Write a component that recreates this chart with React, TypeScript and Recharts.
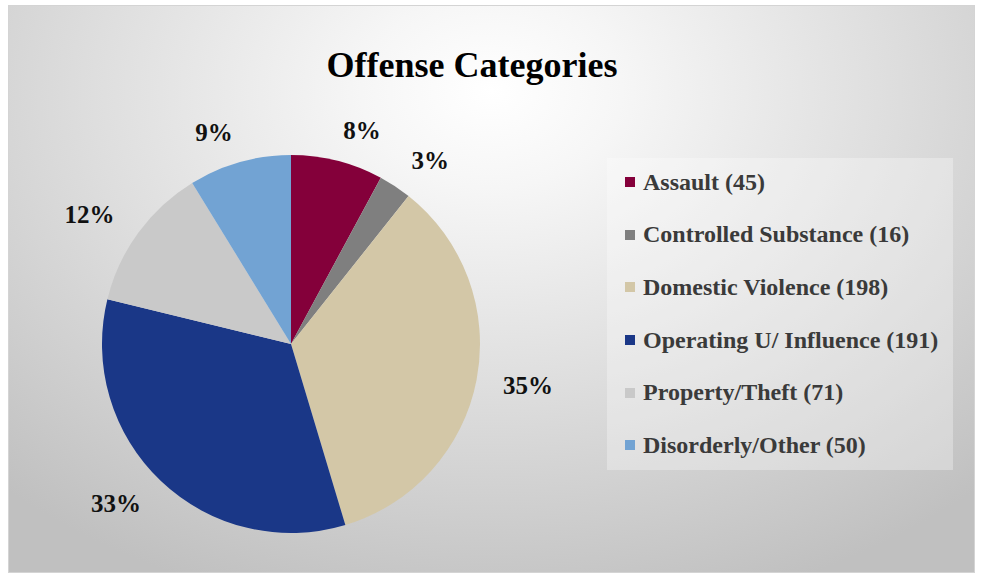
import { PieChart, Pie, Cell, Legend } from 'recharts';

const categories = [
  'Assault',
  'Controlled Substance',
  'Domestic Violence',
  'Operating U/ Influence',
  'Property/Theft',
  'Disorderly/Other',
];
const counts = [45, 16, 198, 191, 71, 50];
const colors = ['#84003a', '#7f7f7f', '#d3c7a7', '#1a3787', '#c9c9c9', '#72a3d3'];

const data = categories.map((name, i) => ({ name, value: counts[i] }));

const FONT = '"Liberation Serif", "Times New Roman", serif';
const RAD = Math.PI / 180;

// outside-end style labels, box pushed out along the slice direction
function renderLabel(props: any) {
  const { cx, cy, midAngle, outerRadius, percent } = props;
  const text = `${Math.round(percent * 100)}%`;
  const cos = Math.cos(-midAngle * RAD);
  const sin = Math.sin(-midAngle * RAD);
  const hw = text.length * 8.5 + 6;
  const r = outerRadius + 18;
  const x = cx + (r + hw) * cos + Math.sign(cos) * 15 * Math.abs(sin);
  const y = cy + r * sin + sin * 13;
  return (
    <text
      x={x}
      y={y}
      textAnchor="middle"
      dominantBaseline="central"
      fontFamily={FONT}
      fontWeight="bold"
      fontSize={25}
      fill="#111"
    >
      {text}
    </text>
  );
}

function LegendBox() {
  return (
    <div
      style={{
        width: 346,
        height: 312,
        background: 'rgba(255,255,255,0.3)',
        boxSizing: 'border-box',
        overflow: 'hidden',
      }}
    >
      <div style={{ marginTop: -2 }}>
        {data.map((d, i) => (
          <div
            key={d.name}
            style={{
              display: 'flex',
              alignItems: 'center',
              height: 52.6,
              paddingLeft: 18,
              fontFamily: FONT,
              fontWeight: 'bold',
              fontSize: 24,
              color: '#3a3a3a',
              whiteSpace: 'nowrap',
            }}
          >
            <span
              style={{
                display: 'inline-block',
                width: 10,
                height: 10,
                background: colors[i],
                marginRight: 8,
              }}
            />
            {`${d.name} (${d.value})`}
          </div>
        ))}
      </div>
    </div>
  );
}

export default function App() {
  return (
    <div
      style={{
        position: 'absolute',
        left: 8,
        top: 5,
        width: 967,
        height: 568,
        boxSizing: 'border-box',
        border: '1px solid #d4d4d4',
        background:
          'radial-gradient(ellipse 75% 95% at 50% 15%, #ffffff 0%, #f6f6f6 18%, #dedede 55%, #c0c0c0 100%)',
        overflow: 'hidden',
      }}
    >
      <style>{`.recharts-pie-sectors { filter: drop-shadow(0 0 9px rgba(0,0,0,0.28)); }`}</style>
      <div
        style={{
          position: 'absolute',
          left: 0,
          width: 926,
          top: 38,
          textAlign: 'center',
          fontFamily: FONT,
          fontWeight: 'bold',
          fontSize: 36,
          color: '#000',
        }}
      >
        Offense Categories
      </div>
      <PieChart
        width={965}
        height={566}
        margin={{ top: 0, right: 0, bottom: 0, left: 0 }}
        style={{ position: 'absolute', left: 0, top: 0 }}
      >
        <Pie
          data={data}
          dataKey="value"
          nameKey="name"
          cx={282}
          cy={338}
          outerRadius={189}
          startAngle={90}
          endAngle={-270}
          stroke="none"
          label={renderLabel}
          labelLine={false}
          isAnimationActive={false}
        >
          {data.map((d, i) => (
            <Cell key={d.name} fill={colors[i]} />
          ))}
        </Pie>
        <Legend
          content={() => <LegendBox />}
          wrapperStyle={{ position: 'absolute', left: 598, top: 152, width: 346 }}
        />
      </PieChart>
    </div>
  );
}
